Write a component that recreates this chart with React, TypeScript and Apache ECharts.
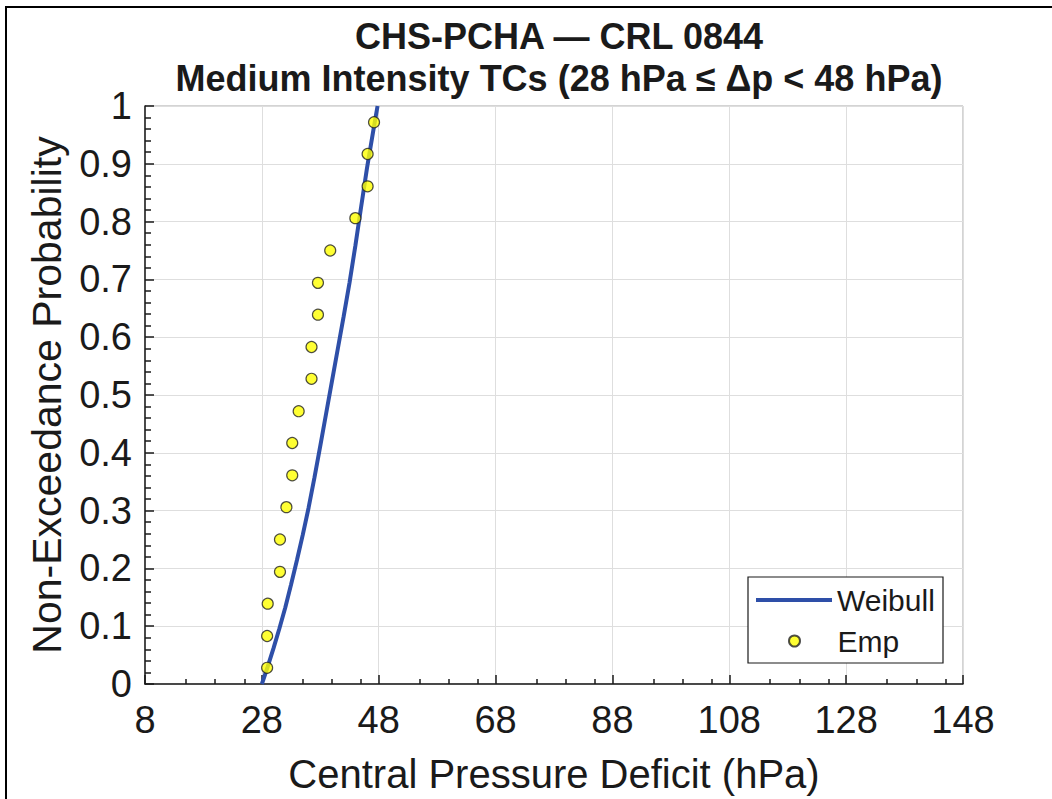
import React, { useEffect, useRef } from "react";
import * as echarts from "echarts";

const titleLine1 = "CHS-PCHA — CRL 0844";
const titleLine2 = "Medium Intensity TCs (28 hPa ≤ Δp < 48 hPa)";
const xAxisName = "Central Pressure Deficit (hPa)";
const yAxisName = "Non-Exceedance Probability";

const weibullX = [28, 29, 30, 31, 32, 33, 34, 35, 36, 37, 38, 39, 40, 41, 42, 43, 44, 45, 46, 47, 47.8];
const weibullY = [0, 0.03, 0.062, 0.096, 0.132, 0.172, 0.214, 0.258, 0.305, 0.357, 0.412, 0.468, 0.524, 0.58, 0.636, 0.694, 0.758, 0.826, 0.893, 0.953, 1.0];

const empX = [28.9, 28.9, 29.0, 31.1, 31.1, 32.2, 33.2, 33.2, 34.3, 36.5, 36.5, 37.6, 37.6, 39.7, 44.0, 46.1, 46.1, 47.2];
const empY = [0.028, 0.083, 0.139, 0.194, 0.25, 0.306, 0.361, 0.417, 0.472, 0.528, 0.583, 0.639, 0.694, 0.75, 0.806, 0.861, 0.917, 0.972];

const xMin = 8;
const xMax = 148;
const xStep = 20;
const xMinorTicks = [15, 20, 25, 35, 40, 45, 55, 60, 65, 75, 80, 85, 95, 100, 105, 115, 120, 125, 135, 140, 145];

const FONT = "'Liberation Sans', Arial, Helvetica, sans-serif";
const INK = "#1a1a1a";
const BLUE = "#2e4fa8";

export default function App() {
  const ref = useRef<HTMLDivElement>(null);
  useEffect(() => {
    document.body.style.margin = "0";
    if (!ref.current) return;
    const chart = echarts.init(ref.current, undefined, { renderer: "svg" });
    const axisLineStyle = { color: INK, width: 1.5 };
    chart.setOption({
      animation: false,
      backgroundColor: "#ffffff",
      textStyle: { fontFamily: FONT },
      title: {
        text: titleLine1 + "\n" + titleLine2,
        left: 554,
        top: 10,
        textAlign: "center",
        textStyle: { fontSize: 36, fontWeight: "bold", color: INK, lineHeight: 42, fontFamily: FONT },
      },
      grid: {
        left: 145,
        top: 106,
        width: 818,
        height: 578,
        show: true,
        borderColor: "#a8a8a8",
        borderWidth: 1,
        backgroundColor: "transparent",
      },
      xAxis: [
        {
          type: "value",
          min: xMin,
          max: xMax,
          interval: xStep,
          position: "bottom",
          axisLine: { show: true, lineStyle: axisLineStyle },
          axisTick: { show: true, inside: true, length: 9, lineStyle: axisLineStyle },
          axisLabel: { fontSize: 38, color: INK, margin: 17, fontFamily: FONT },
          splitLine: { show: true, lineStyle: { color: "#dedede", width: 1 } },
          name: xAxisName,
          nameLocation: "middle",
          nameGap: 70,
          nameTextStyle: { fontSize: 40, color: INK, fontFamily: FONT },
        },
        {
          type: "value",
          min: xMin,
          max: xMax,
          position: "bottom",
          axisLine: { show: false },
          axisLabel: { show: false },
          splitLine: { show: false },
          axisTick: { show: true, inside: true, length: 5, customValues: xMinorTicks, lineStyle: axisLineStyle },
        },
      ],
      yAxis: {
        type: "value",
        min: 0,
        max: 1,
        interval: 0.1,
        axisLine: { show: true, lineStyle: axisLineStyle },
        axisTick: { show: true, inside: true, length: 9, lineStyle: axisLineStyle },
        minorTick: { show: true, splitNumber: 5, length: 6, lineStyle: axisLineStyle },
        axisLabel: { fontSize: 38, color: INK, margin: 13, fontFamily: FONT },
        splitLine: { show: true, lineStyle: { color: "#dedede", width: 1 } },
        name: yAxisName,
        nameLocation: "middle",
        nameGap: 78,
        nameTextStyle: { fontSize: 41, color: INK, fontFamily: FONT },
      },
      legend: [
        {
          data: [{ name: "Weibull", icon: "rect" }],
          left: 756,
          top: 585,
          padding: 0,
          itemWidth: 76,
          itemHeight: 4,
          textStyle: { fontSize: 30, color: INK, fontFamily: FONT },
          itemStyle: { color: BLUE },
        },
        {
          data: [{ name: "Emp", icon: "circle" }],
          left: 788,
          top: 626,
          padding: 0,
          itemWidth: 76,
          itemHeight: 11,
          textStyle: { fontSize: 30, color: INK, fontFamily: FONT },
        },
      ],
      graphic: [
        {
          type: "rect",
          z: 3,
          shape: { x: 748, y: 577, width: 195, height: 86 },
          style: { fill: "#ffffff", stroke: INK, lineWidth: 1.2 },
        },
        {
          type: "line",
          z: 10,
          shape: { x1: 6, y1: 6, x2: 6, y2: 799 },
          style: { stroke: "#000000", lineWidth: 2 },
        },
        {
          type: "line",
          z: 10,
          shape: { x1: 5, y1: 7, x2: 1052, y2: 7 },
          style: { stroke: "#000000", lineWidth: 2 },
        },
      ],
      series: [
        {
          type: "line",
          name: "Weibull",
          xAxisIndex: 0,
          data: weibullX.map((x, i) => [x, weibullY[i]]),
          showSymbol: false,
          symbol: "none",
          smooth: false,
          lineStyle: { color: BLUE, width: 4 },
          itemStyle: { color: BLUE },
          z: 2,
        },
        {
          type: "scatter",
          name: "Emp",
          xAxisIndex: 0,
          data: empX.map((x, i) => [x, empY[i]]),
          symbol: "circle",
          symbolSize: 11,
          itemStyle: { color: "#ffff00", borderColor: "#222222", borderWidth: 1.2 },
          z: 3,
        },
      ],
    });
    return () => chart.dispose();
  }, []);
  return <div ref={ref} style={{ width: 1052, height: 799 }} />;
}
